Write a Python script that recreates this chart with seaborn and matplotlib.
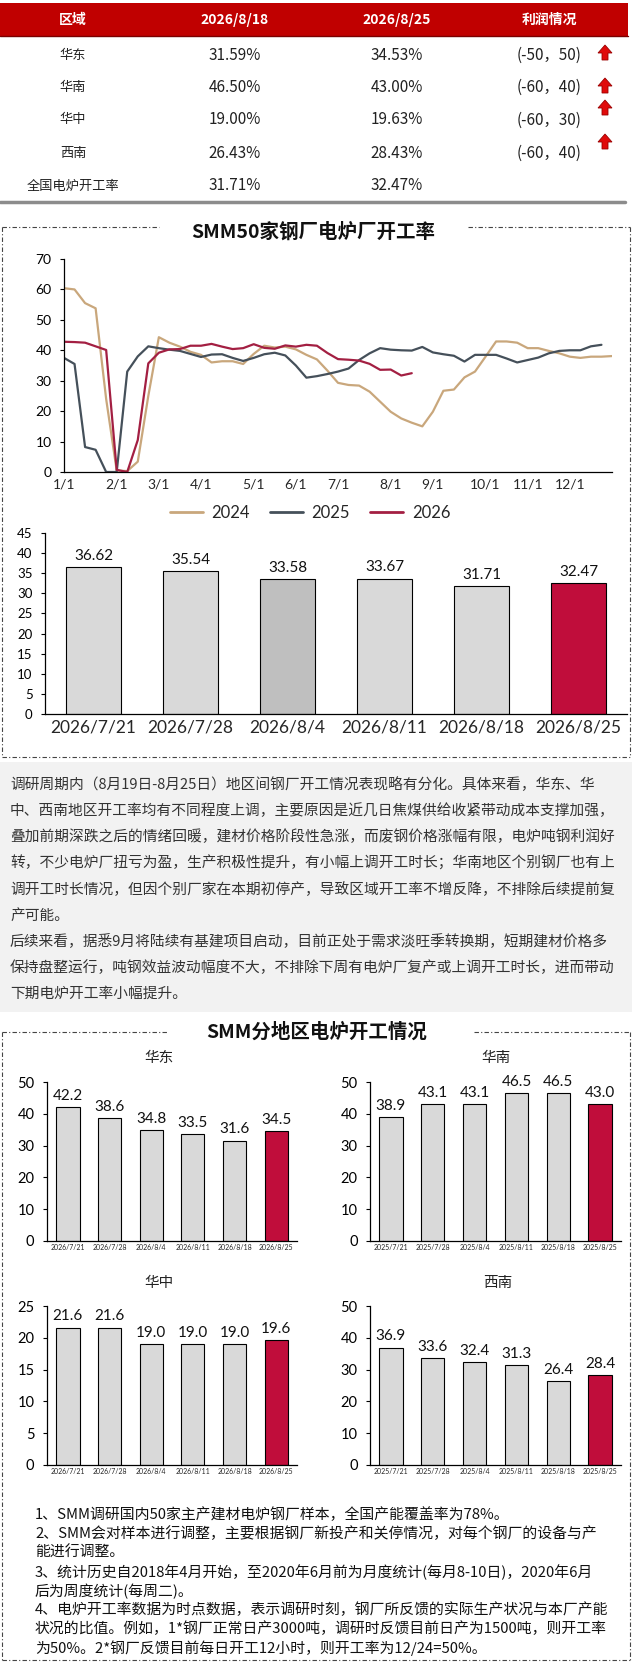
import numpy as np
import pandas as pd
import matplotlib
matplotlib.use('Agg')
import matplotlib.pyplot as plt
import seaborn as sns
from matplotlib.patches import Rectangle, Polygon
from matplotlib.lines import Line2D

W, H = 635, 1663

# ---- table data
regions = ['华东', '华南', '华中', '西南', '全国电炉开工率']
rate_0818 = ['31.59%', '46.50%', '19.00%', '26.43%', '31.71%']
rate_0825 = ['34.53%', '43.00%', '19.63%', '28.43%', '32.47%']
profit = ['(-50，50)', '(-60，40)', '(-60，30)', '(-60，40)', '']
profit_up = [True, True, True, True, False]
header = ['区域', '2026/8/18', '2026/8/25', '利润情况']

# ---- weekly operating rate, SMM 50 EAF mills
y2024 = [60.4, 60.0, 55.5, 53.8, 24.0, 0.5, 0.3, 3.4, 25.0, 44.3,
         42.5, 41.2, 39.5, 38.5, 36.0, 36.4, 36.4, 35.5, 38.8, 41.5,
         40.9, 41.2, 40.3, 38.5, 37.0, 33.3, 29.3, 28.6, 28.4, 26.4,
         23.1, 19.8, 17.6, 16.2, 15.0, 19.8, 26.7, 27.1, 31.1, 33.0,
         37.9, 42.9, 42.9, 42.5, 40.7, 40.7, 39.8, 39.0, 37.9, 37.5,
         37.9, 37.9, 38.1]
y2025 = [37.5, 35.5, 8.2, 7.3, 0.0, 0.0, 33.0, 38.0, 41.3, 40.7,
         40.2, 39.8, 38.8, 37.8, 38.6, 38.7, 37.5, 36.5, 37.5, 38.7,
         39.2, 38.3, 35.0, 31.0, 31.5, 32.2, 33.0, 34.0, 36.8, 39.0,
         40.7, 40.2, 40.0, 39.9, 41.1, 39.3, 38.7, 38.2, 36.3, 38.5,
         38.5, 38.5, 37.3, 36.0, 36.8, 37.6, 39.0, 39.8, 40.0, 40.0,
         41.3, 41.8]
y2026 = [42.8, 42.7, 42.5, 41.3, 40.1, 0.7, 0.0, 10.5, 35.7, 39.2,
         40.3, 40.4, 41.5, 41.5, 42.1, 41.2, 40.4, 40.7, 42.0, 40.8,
         40.5, 41.6, 41.2, 41.8, 41.5, 39.1, 37.1, 36.9, 36.62, 35.54,
         33.58, 33.67, 31.71, 32.47]
month_ticks = [0, 5, 9, 13, 18, 22, 26, 31, 35, 40, 44, 48]
month_labels = ['1/1', '2/1', '3/1', '4/1', '5/1', '6/1', '7/1', '8/1',
                '9/1', '10/1', '11/1', '12/1']

# ---- last six weeks, national
week_dates = ['2026/7/21', '2026/7/28', '2026/8/4', '2026/8/11', '2026/8/18', '2026/8/25']
national = [36.62, 35.54, 33.58, 33.67, 31.71, 32.47]

# ---- regional
dates_2026 = ['2026/7/21', '2026/7/28', '2026/8/4', '2026/8/11', '2026/8/18', '2026/8/25']
dates_2025 = ['2025/7/21', '2025/7/28', '2025/8/4', '2025/8/11', '2025/8/18', '2025/8/25']
east = [42.2, 38.6, 34.8, 33.5, 31.6, 34.5]
south = [38.9, 43.1, 43.1, 46.5, 46.5, 43.0]
central = [21.6, 21.6, 19.0, 19.0, 19.0, 19.6]
southwest = [36.9, 33.6, 32.4, 31.3, 26.4, 28.4]

para = [
    '调研周期内（8月19日-8月25日）地区间钢厂开工情况表现略有分化。具体来看，华东、华',
    '中、西南地区开工率均有不同程度上调，主要原因是近几日焦煤供给收紧带动成本支撑加强，',
    '叠加前期深跌之后的情绪回暖，建材价格阶段性急涨，而废钢价格涨幅有限，电炉吨钢利润好',
    '转，不少电炉厂扭亏为盈，生产积极性提升，有小幅上调开工时长；华南地区个别钢厂也有上',
    '调开工时长情况，但因个别厂家在本期初停产，导致区域开工率不增反降，不排除后续提前复',
    '产可能。',
    '后续来看，据悉9月将陆续有基建项目启动，目前正处于需求淡旺季转换期，短期建材价格多',
    '保持盘整运行，吨钢效益波动幅度不大，不排除下周有电炉厂复产或上调开工时长，进而带动',
    '下期电炉开工率小幅提升。',
]
notes = [
    '1、SMM调研国内50家主产建材电炉钢厂样本，全国产能覆盖率为78%。',
    '2、SMM会对样本进行调整，主要根据钢厂新投产和关停情况，对每个钢厂的设备与产',
    '能进行调整。',
    '3、统计历史自2018年4月开始，至2020年6月前为月度统计(每月8-10日)，2020年6月',
    '后为周度统计(每周二)。',
    '4、电炉开工率数据为时点数据，表示调研时刻，钢厂所反馈的实际生产状况与本厂产能',
    '状况的比值。例如，1*钢厂正常日产3000吨，调研时反馈目前日产为1500吨，则开工率',
    '为50%。2*钢厂反馈目前每日开工12小时，则开工率为12/24=50%。',
]

GREY = '#D9D9D9'
DARKGREY = '#BFBFBF'
CRIMSON = '#C00D3B'
RED = '#C00000'
CJK = ['Noto Sans CJK SC', 'DejaVu Sans']

sns.set_theme(style='white')
plt.rcParams['font.family'] = ['Lato', 'Noto Sans CJK SC', 'DejaVu Sans']
plt.rcParams['axes.unicode_minus'] = False

fig = plt.figure(figsize=(W / 100, H / 100), dpi=100)


def box(l, t, r, b):
    return [l / W, 1 - b / H, (r - l) / W, (b - t) / H]


ov = fig.add_axes([0, 0, 1, 1], zorder=0)
ov.set_xlim(0, W)
ov.set_ylim(H, 0)
ov.axis('off')

# ---- table
ov.add_patch(Rectangle((0, 3), 628, 33, color=RED, lw=0))
ov.plot([0, 628], [36, 36], color='#7A0000', lw=1)
col_x = [73, 235, 397, 549]
for cx, h in zip(col_x, header):
    ov.text(cx, 20, h, color='white', fontsize=10, fontweight='bold',
            ha='center', va='center', family=CJK)
row_y = [55, 87, 120, 153, 186]
arrow_dy = [-2, -1, -12, -11, 0]
for i, reg in enumerate(regions):
    y = row_y[i]
    ov.text(col_x[0], y, reg, fontsize=9.5, ha='center', va='center', family=CJK, color='#222222')
    ov.text(col_x[1], y, rate_0818[i], fontsize=11, ha='center', va='center', family=CJK, color='#222222')
    ov.text(col_x[2], y, rate_0825[i], fontsize=11, ha='center', va='center', family=CJK, color='#222222')
    if profit[i]:
        ov.text(col_x[3], y, profit[i], fontsize=11, ha='center', va='center', family=CJK, color='#222222')
    if profit_up[i]:
        ay = y + arrow_dy[i]
        ax0 = 605
        pts = [(ax0, ay - 8), (ax0 + 7, ay), (ax0 + 3, ay), (ax0 + 3, ay + 7),
               (ax0 - 3, ay + 7), (ax0 - 3, ay), (ax0 - 7, ay)]
        ov.add_patch(Polygon(pts, closed=True, facecolor='#E00A0A', edgecolor='#9A0000', lw=0.6))

ov.plot([0, 625], [201.5, 201.5], color='#8C8C8C', lw=2.5)

# ---- dashed frames
dash = (0, (4, 2, 1, 2))
fc = '#444444'


def frame(t, b, g0, g1):
    ov.plot([2, g0], [t, t], color=fc, lw=0.8, ls=dash)
    ov.plot([g1, 630], [t, t], color=fc, lw=0.8, ls=dash)
    ov.plot([2, 2], [t, b], color=fc, lw=0.8, ls=dash)
    ov.plot([630, 630], [t, b], color=fc, lw=0.8, ls=dash)
    ov.plot([2, 630], [b, b], color=fc, lw=0.8, ls=dash)


frame(227, 757, 159, 468)
frame(1032, 1660, 167, 474)
ov.text(313, 232, 'SMM50家钢厂电炉厂开工率', fontsize=14, fontweight='bold',
        ha='center', va='center', family=CJK, color='#111111')
ov.text(317, 1032, 'SMM分地区电炉开工情况', fontsize=14, fontweight='bold',
        ha='center', va='center', family=CJK, color='#111111')

# ---- commentary panel
ov.add_patch(Rectangle((0, 762), 632, 250, color='#F2F2F2', lw=0))
for i, line in enumerate(para):
    ov.text(10, 785 + 26.1 * i, line, fontsize=10.6, ha='left', va='center',
            family=CJK, color='#333333')

for i, line in enumerate(notes):
    ov.text(35, 1515 + 19 * i, line, fontsize=10.7, ha='left', va='center',
            family=CJK, color='#111111')


def style_axes(ax, lab_size):
    sns.despine(ax=ax)
    ax.set_facecolor('none')
    for s in ('left', 'bottom'):
        ax.spines[s].set_color('black')
        ax.spines[s].set_linewidth(0.9)
    ax.tick_params(axis='y', left=True, length=3, width=0.8, pad=6, labelsize=lab_size, colors='black')
    ax.tick_params(axis='x', bottom=False, length=0)
    ax.set_xlabel('')
    ax.set_ylabel('')


# ---- line chart
rows = []
for yr, vals in (('2024', y2024), ('2025', y2025), ('2026', y2026)):
    for i, v in enumerate(vals):
        rows.append((i, v, yr))
df = pd.DataFrame(rows, columns=['week', 'rate', 'year'])
line_colors = {'2024': '#C9A77C', '2025': '#45505A', '2026': '#A31F42'}

ax1 = fig.add_axes(box(64, 259, 612, 472))
sns.lineplot(data=df, x='week', y='rate', hue='year', palette=line_colors,
             linewidth=1.6, ax=ax1, legend=False)
ax1.set_xlim(0, 52)
ax1.set_ylim(0, 70)
ax1.set_yticks(range(0, 71, 10))
ax1.set_xticks(month_ticks)
ax1.set_xticklabels(month_labels)
style_axes(ax1, 10)
ax1.tick_params(axis='x', labelsize=10, pad=5)

handles = [Line2D([], [], color=line_colors[k], lw=2) for k in line_colors]
fig.legend(handles, list(line_colors), loc='center', ncol=3, frameon=False,
           fontsize=12, handlelength=2.0, handletextpad=0.5, columnspacing=1.2,
           bbox_to_anchor=(310 / W, 1 - 513 / H))

# ---- national bar chart


def bars(ax, labels, values, fmt, lab_fs):
    colors = [GREY] * (len(labels) - 1) + [CRIMSON]
    pal = dict(zip(labels, colors))
    sns.barplot(x=labels, y=values, hue=labels, palette=pal, legend=False,
                width=0.56, edgecolor='black', linewidth=0.8, saturation=1, ax=ax)
    for c in ax.containers:
        ax.bar_label(c, fmt=fmt, padding=3, fontsize=lab_fs, color='#111111')
    ax.set_xlim(-0.5, len(labels) - 0.5)


ax2 = fig.add_axes(box(45, 533, 627, 714))
bars(ax2, week_dates, national, '%.2f', 11)
ax2.patches[2].set_facecolor(DARKGREY)
ax2.set_ylim(0, 45)
ax2.set_yticks(range(0, 46, 5))
style_axes(ax2, 9.5)
ax2.tick_params(axis='x', labelsize=12.5, pad=4)

# ---- regional
regional = [
    ((47, 1082, 297, 1241), dates_2026, east, 50, 10, '华东', 159, 1058),
    ((370, 1082, 621, 1241), dates_2025, south, 50, 10, '华南', 496, 1058),
    ((47, 1306, 297, 1465), dates_2026, central, 25, 5, '华中', 159, 1283),
    ((370, 1306, 621, 1465), dates_2025, southwest, 50, 10, '西南', 498, 1283),
]
for rect, labels, vals, top, step, name, tx, ty in regional:
    ax = fig.add_axes(box(*rect))
    bars(ax, labels, vals, '%.1f', 11)
    ax.set_ylim(0, top)
    ax.set_yticks(range(0, top + 1, step))
    style_axes(ax, 10.5)
    ax.tick_params(axis='x', labelsize=5, pad=2)
    ov.text(tx, ty, name, fontsize=10.5, ha='center', va='center', family=CJK, color='#222222')

fig.savefig('out.png', dpi=100)
